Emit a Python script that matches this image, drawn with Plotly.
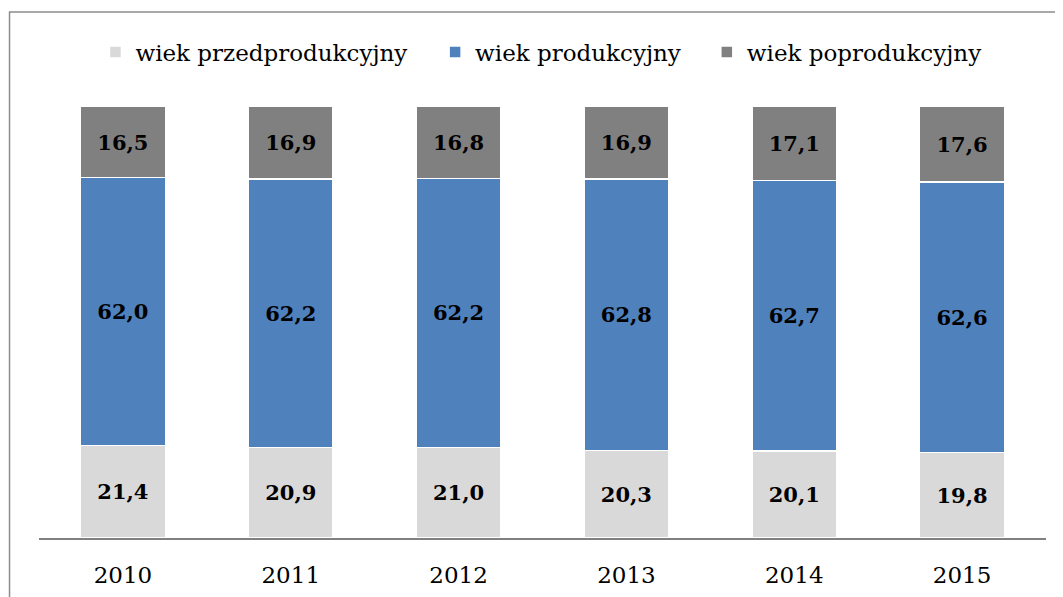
import plotly.graph_objects as go

years = ["2010", "2011", "2012", "2013", "2014", "2015"]
przed = [21.4, 20.9, 21.0, 20.3, 20.1, 19.8]
prod = [62.0, 62.2, 62.2, 62.8, 62.7, 62.6]
poprod = [16.5, 16.9, 16.8, 16.9, 17.1, 17.6]

series = [
    ("wiek przedprodukcyjny", przed, "#D9D9D9", "legend"),
    ("wiek produkcyjny", prod, "#4F81BD", "legend2"),
    ("wiek poprodukcyjny", poprod, "#808080", "legend3"),
]

FONT = "DejaVu Serif"

fig = go.Figure()
for name, vals, color, leg in series:
    fig.add_trace(go.Bar(
        x=years, y=vals, name=name, legend=leg,
        marker=dict(color=color, line=dict(color="white", width=1.5)),
        text=[f"{v:.1f}".replace(".", ",") for v in vals],
        textposition="inside", insidetextanchor="middle", textangle=0,
        textfont=dict(family=FONT, size=21, color="black", weight="bold"),
        hoverinfo="skip",
    ))

# page body has an 8px margin -> shift everything up/left by 8
OFF = 8
W, H = 1063 - OFF, 597 - OFF
left, right, top, bottom = 38.5 - OFF, 1046.5 - OFF, 106 - OFF, 538 - OFF
l, r, t, b = left, W - right, top, H - bottom
pw, ph = W - l - r, H - t - b

def py(ypix):
    return (bottom - (ypix - OFF)) / ph

def px(xpix):
    return ((xpix - OFF) - left) / pw

def leg(xpix):
    return dict(orientation="h", x=px(xpix), xanchor="left", y=py(52), yanchor="middle",
                font=dict(family=FONT, size=23, color="black"),
                itemwidth=30, bgcolor="rgba(0,0,0,0)")

fig.update_layout(
    width=W, height=H, barmode="stack", bargap=0.494,
    margin=dict(l=l, r=r, t=t, b=b, autoexpand=False),
    paper_bgcolor="white", plot_bgcolor="white",
    font=dict(family=FONT, size=23, color="black"),
    showlegend=True,
    legend=leg(95), legend2=leg(435), legend3=leg(707),
    xaxis=dict(showline=True, linecolor="#808080", linewidth=1.5, ticks="",
               ticklabelstandoff=16,
               tickfont=dict(family=FONT, size=23, color="black"), showgrid=False),
    yaxis=dict(range=[0, 100], visible=False, showgrid=False),
)

fig.add_shape(type="rect", xref="paper", yref="paper",
              x0=px(9), x1=px(1080), y0=py(620), y1=py(12),
              line=dict(color="#8C8C8C", width=1.5), fillcolor="rgba(0,0,0,0)", layer="below")

fig.write_html("out.html")
